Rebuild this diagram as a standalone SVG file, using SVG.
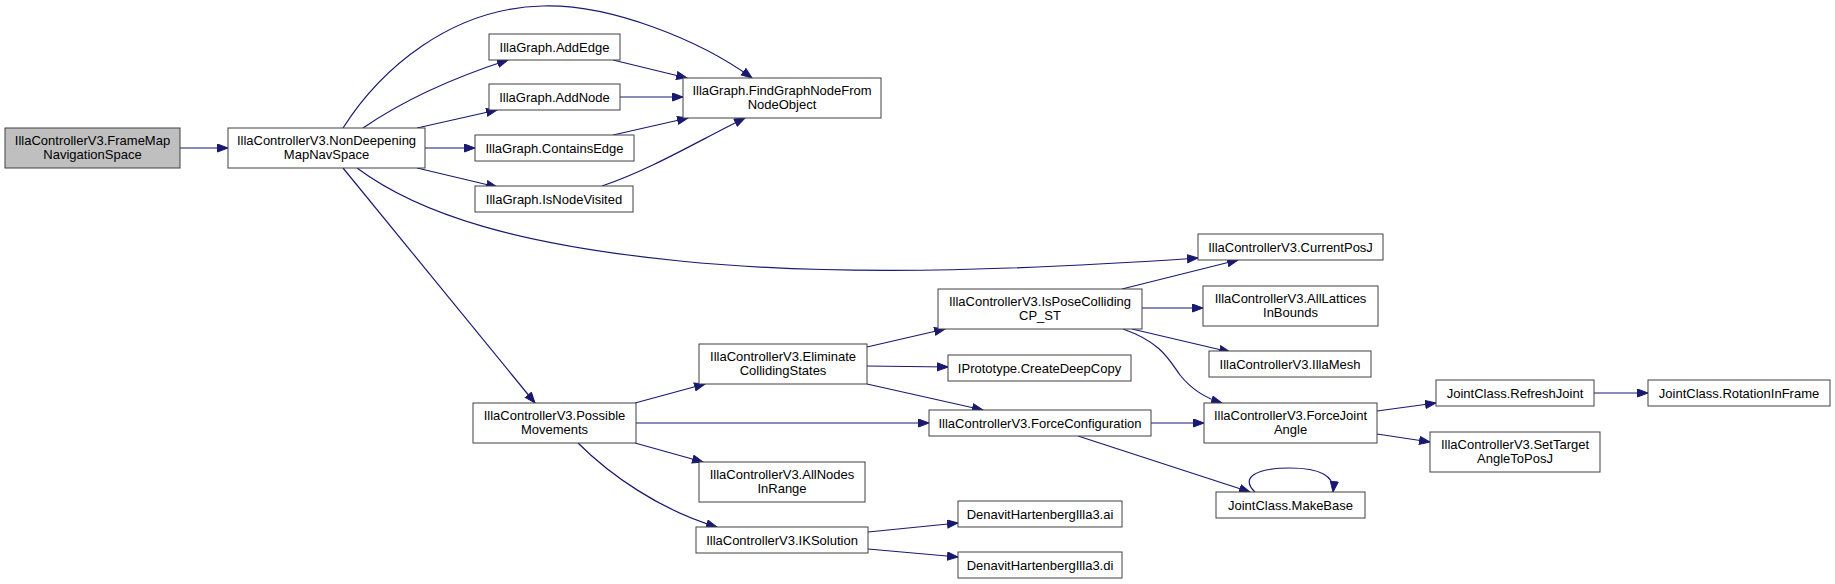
<svg xmlns="http://www.w3.org/2000/svg" width="1835" height="584" viewBox="0 0 1835 584">
<style>
.n rect{fill:#ffffff;stroke:#404040;stroke-width:1}
.n.s rect{fill:#bfbfbf}
.n text{font-family:"Liberation Sans",Arial,sans-serif;font-size:13px;fill:#000000;text-anchor:middle}
.e path{fill:none;stroke:#191970;stroke-width:1.2;marker-end:url(#a)}
</style>
<defs>
<marker id="a" markerUnits="userSpaceOnUse" markerWidth="12" markerHeight="10" refX="11" refY="4.5" orient="auto">
<path d="M0.5,0.5 L11,4.5 L0.5,8.5 z" fill="#191970" stroke="#191970" stroke-width="1"/>
</marker>
</defs>
<rect width="1835" height="584" fill="#ffffff"/>
<g class="e" id="edges">
<path d="M180,148 L228,148"/>
<path d="M343,128 C380,70 450,8 543,6 C610,4 700,40 752,78"/>
<path d="M363,128 C395,106 440,82 508,60"/>
<path d="M417,128 L497,110"/>
<path d="M425,148 L475,148"/>
<path d="M417,168 L497,187"/>
<path d="M357,168 C420,215 520,245 680,261 C800,273 950,275 1198,258"/>
<path d="M343,168 L535,403"/>
<path d="M613,60 L687,78"/>
<path d="M620,97 L683,97"/>
<path d="M613,135 L688,118"/>
<path d="M602,186 C650,170 700,140 745,118"/>
<path d="M635,403 L705,384"/>
<path d="M636,423 L929,423"/>
<path d="M635,443 L703,462"/>
<path d="M578,443 C610,475 660,510 717,527"/>
<path d="M867,347 L945,329"/>
<path d="M867,366 L948,367"/>
<path d="M867,384 L983,410"/>
<path d="M1122,289 L1238,260"/>
<path d="M1142,308 L1203,308"/>
<path d="M1132,329 L1230,352"/>
<path d="M1123,329 C1160,342 1168,358 1180,375 C1192,390 1205,398 1222,403"/>
<path d="M1151,423 L1204,423"/>
<path d="M1078,436 L1250,492"/>
<path d="M1377,411 L1436,403"/>
<path d="M1377,434 L1430,442"/>
<path d="M1594,393 L1648,393"/>
<path d="M1255,492 C1240,478 1255,468 1290,468 C1320,468 1335,476 1333,492"/>
<path d="M868,532 L958,523"/>
<path d="M868,549 L958,557"/>
</g>
<g class="n s" id="n_framemap"><rect x="5" y="128" width="175" height="40"/><text x="92.5" y="145">IllaControllerV3.FrameMap</text><text x="92.5" y="159">NavigationSpace</text></g>
<g class="n" id="n_nondeep"><rect x="228" y="128" width="197" height="40"/><text x="326.5" y="145">IllaControllerV3.NonDeepening</text><text x="326.5" y="159">MapNavSpace</text></g>
<g class="n" id="n_addedge"><rect x="489" y="34" width="131" height="26"/><text x="554.5" y="51.5">IllaGraph.AddEdge</text></g>
<g class="n" id="n_addnode"><rect x="489" y="84" width="131" height="26"/><text x="554.5" y="101.5">IllaGraph.AddNode</text></g>
<g class="n" id="n_containsedge"><rect x="475" y="135" width="159" height="26"/><text x="554.5" y="152.5">IllaGraph.ContainsEdge</text></g>
<g class="n" id="n_isnodevisited"><rect x="475" y="186" width="158" height="26"/><text x="554" y="203.5">IllaGraph.IsNodeVisited</text></g>
<g class="n" id="n_findgraph"><rect x="683" y="78" width="198" height="40"/><text x="782" y="95">IllaGraph.FindGraphNodeFrom</text><text x="782" y="109">NodeObject</text></g>
<g class="n" id="n_currentposj"><rect x="1198" y="234" width="185" height="26"/><text x="1290.5" y="251.5">IllaControllerV3.CurrentPosJ</text></g>
<g class="n" id="n_isposecolliding"><rect x="938" y="289" width="204" height="40"/><text x="1040" y="306">IllaControllerV3.IsPoseColliding</text><text x="1040" y="320">CP_ST</text></g>
<g class="n" id="n_alllattices"><rect x="1203" y="286" width="175" height="40"/><text x="1290.5" y="303">IllaControllerV3.AllLattices</text><text x="1290.5" y="317">InBounds</text></g>
<g class="n" id="n_illamesh"><rect x="1209" y="351" width="162" height="26"/><text x="1290" y="368.5">IllaControllerV3.IllaMesh</text></g>
<g class="n" id="n_eliminate"><rect x="699" y="344" width="168" height="40"/><text x="783" y="361">IllaControllerV3.Eliminate</text><text x="783" y="375">CollidingStates</text></g>
<g class="n" id="n_createdeepcopy"><rect x="948" y="355" width="183" height="26"/><text x="1039.5" y="372.5">IPrototype.CreateDeepCopy</text></g>
<g class="n" id="n_possiblemovements"><rect x="473" y="403" width="163" height="40"/><text x="554.5" y="420">IllaControllerV3.Possible</text><text x="554.5" y="434">Movements</text></g>
<g class="n" id="n_forceconfiguration"><rect x="929" y="410" width="222" height="26"/><text x="1040" y="427.5">IllaControllerV3.ForceConfiguration</text></g>
<g class="n" id="n_forcejointangle"><rect x="1204" y="403" width="173" height="40"/><text x="1290.5" y="420">IllaControllerV3.ForceJoint</text><text x="1290.5" y="434">Angle</text></g>
<g class="n" id="n_allnodesinrange"><rect x="699" y="462" width="166" height="40"/><text x="782" y="479">IllaControllerV3.AllNodes</text><text x="782" y="493">InRange</text></g>
<g class="n" id="n_iksolution"><rect x="696" y="527" width="172" height="26"/><text x="782" y="544.5">IllaControllerV3.IKSolution</text></g>
<g class="n" id="n_dh_ai"><rect x="958" y="501" width="164" height="26"/><text x="1040" y="518.5">DenavitHartenbergIlla3.ai</text></g>
<g class="n" id="n_dh_di"><rect x="958" y="552" width="164" height="26"/><text x="1040" y="569.5">DenavitHartenbergIlla3.di</text></g>
<g class="n" id="n_makebase"><rect x="1216" y="492" width="149" height="26"/><text x="1290.5" y="509.5">JointClass.MakeBase</text></g>
<g class="n" id="n_refreshjoint"><rect x="1436" y="380" width="158" height="26"/><text x="1515" y="397.5">JointClass.RefreshJoint</text></g>
<g class="n" id="n_rotationinframe"><rect x="1648" y="380" width="182" height="26"/><text x="1739" y="397.5">JointClass.RotationInFrame</text></g>
<g class="n" id="n_settarget"><rect x="1430" y="432" width="170" height="40"/><text x="1515" y="449">IllaControllerV3.SetTarget</text><text x="1515" y="463">AngleToPosJ</text></g>
</svg>
